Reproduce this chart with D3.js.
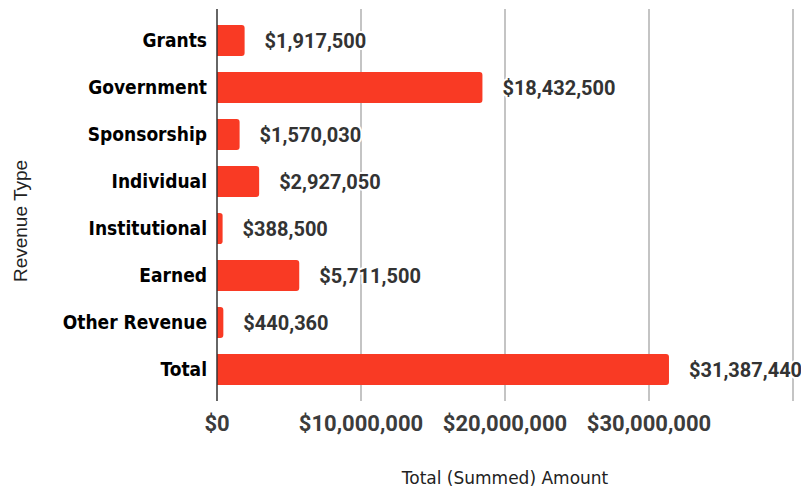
<!DOCTYPE html>
<html>
<head>
<meta charset="utf-8">
<script src="https://cdn.jsdelivr.net/npm/d3@7"></script>
<style>
  body { margin: 0; background: #fff; }
</style>
</head>
<body>
<script>
// chart data
var categories = ["Grants", "Government", "Sponsorship", "Individual", "Institutional", "Earned", "Other Revenue", "Total"];
var amounts = [1917500, 18432500, 1570030, 2927050, 388500, 5711500, 440360, 31387440];
var tickValues = [0, 10000000, 20000000, 30000000, 40000000];
var tickLabels = ["$0", "$10,000,000", "$20,000,000", "$30,000,000", ""];

var width = 801, height = 489;
var margin = { top: 9, right: 8, bottom: 88, left: 217 };

var svg = d3.select("body").append("svg")
    .attr("width", width)
    .attr("height", height);

var x = d3.scaleLinear()
    .domain([0, 40000000])
    .range([margin.left, width - margin.right]);

var y = d3.scaleBand()
    .domain(categories)
    .range([margin.top, height - margin.bottom])
    .padding(0.34);

var rows = categories.map(function (c, i) { return { name: c, value: amounts[i] }; });
var fmt = d3.format("$,");

// gridlines
svg.append("g")
   .selectAll("line")
   .data(tickValues.slice(1))
   .enter().append("line")
   .attr("x1", function (d) { return x(d); })
   .attr("x2", function (d) { return x(d); })
   .attr("y1", margin.top)
   .attr("y2", height - margin.bottom)
   .attr("stroke", "#c4c4c4")
   .attr("stroke-width", 2);

// bars, rounded on the right end only
function barPath(d) {
  var x0 = x(0), x1 = x(d.value), y0 = y(d.name), h = y.bandwidth();
  var r = Math.min(3, (x1 - x0) / 2);
  return "M" + x0 + "," + y0 +
         "H" + (x1 - r) +
         "Q" + x1 + "," + y0 + " " + x1 + "," + (y0 + r) +
         "V" + (y0 + h - r) +
         "Q" + x1 + "," + (y0 + h) + " " + (x1 - r) + "," + (y0 + h) +
         "H" + x0 + "Z";
}

svg.append("g")
   .selectAll("path")
   .data(rows)
   .enter().append("path")
   .attr("d", barPath)
   .attr("fill", "#f93a24");

// y axis line
svg.append("line")
   .attr("x1", x(0)).attr("x2", x(0))
   .attr("y1", margin.top).attr("y2", height - margin.bottom)
   .attr("stroke", "#333")
   .attr("stroke-width", 1.5);

// category labels
svg.append("g")
   .selectAll("text")
   .data(rows)
   .enter().append("text")
   .attr("x", x(0) - 10)
   .attr("y", function (d) { return y(d.name) + y.bandwidth() / 2; })
   .attr("dy", "0.36em")
   .attr("text-anchor", "end")
   .attr("font-family", "'DejaVu Sans', sans-serif")
   .attr("font-stretch", "condensed")
   .attr("font-weight", "bold")
   .attr("font-size", "19px")
   .attr("fill", "#000")
   .text(function (d) { return d.name; });

// value labels with white halo
svg.append("g")
   .selectAll("text")
   .data(rows)
   .enter().append("text")
   .attr("x", function (d) { return x(d.value) + 20; })
   .attr("y", function (d) { return y(d.name) + y.bandwidth() / 2; })
   .attr("dy", "0.36em")
   .attr("font-family", "Roboto, sans-serif")
   .attr("font-weight", "bold")
   .attr("font-size", "20px")
   .attr("fill", "#333")
   .attr("stroke", "#fff")
   .attr("stroke-width", 4)
   .attr("stroke-linejoin", "round")
   .attr("paint-order", "stroke")
   .text(function (d) { return fmt(d.value); });

// x tick labels
svg.append("g")
   .selectAll("text")
   .data(tickValues)
   .enter().append("text")
   .attr("x", function (d) { return x(d); })
   .attr("y", 431)
   .attr("text-anchor", "middle")
   .attr("font-family", "Roboto, sans-serif")
   .attr("font-weight", "bold")
   .attr("font-size", "22px")
   .attr("fill", "#3c3c3c")
   .text(function (d, i) { return tickLabels[i]; });

// axis titles
svg.append("text")
   .attr("x", (x(0) + x(40000000)) / 2)
   .attr("y", 484)
   .attr("text-anchor", "middle")
   .attr("font-family", "'DejaVu Sans', sans-serif")
   .attr("font-size", "17px")
   .attr("fill", "#222")
   .text("Total (Summed) Amount");

svg.append("text")
   .attr("transform", "translate(27,221) rotate(-90)")
   .attr("text-anchor", "middle")
   .attr("font-family", "'Liberation Sans', Arial, sans-serif")
   .attr("font-size", "19px")
   .attr("fill", "#222")
   .text("Revenue Type");
</script>
</body>
</html>
